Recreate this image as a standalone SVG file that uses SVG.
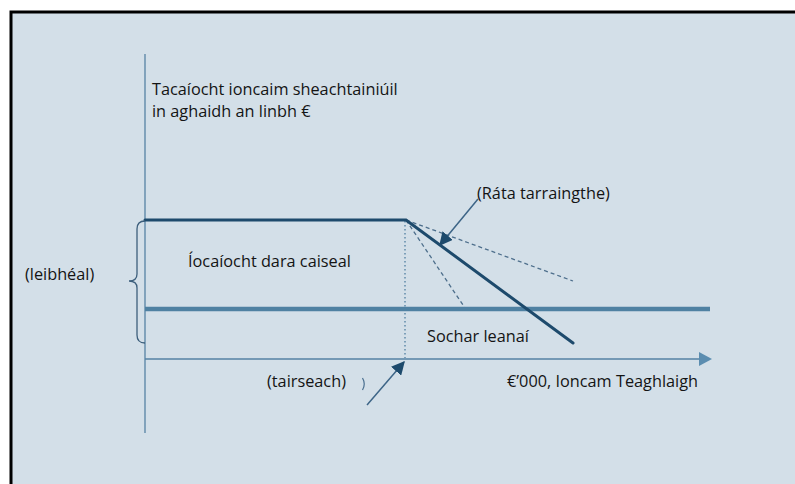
<svg xmlns="http://www.w3.org/2000/svg" width="795" height="484" viewBox="0 0 795 484">
  <style>
    .t { font-family: "Open Sans", "Noto Sans", "Liberation Sans", sans-serif; font-size: 16.3px; fill: #141414; }
    .axis { stroke: #5582a4; stroke-width: 1.3; fill: none; }
    .dark { stroke: #1d4a6c; stroke-width: 3; fill: none; stroke-linecap: round; }
    .mid { stroke: #4f81a2; stroke-width: 4.5; fill: none; }
    .dash { stroke: #4e6f8c; stroke-width: 1.3; stroke-dasharray: 4 3; fill: none; }
    .dot { stroke: #4f7ea0; stroke-width: 1.3; stroke-dasharray: 1.5 2.5; fill: none; }
    .ptr { stroke: #3d6587; stroke-width: 1.5; fill: none; }
  </style>
  <defs>
    <marker id="ah" viewBox="0 0 10 10" refX="9" refY="5" markerWidth="9" markerHeight="9" orient="auto" markerUnits="strokeWidth">
      <path d="M0,0 L10,5 L0,10 z" fill="#1d4a6c"/>
    </marker>
  </defs>
  <rect x="11" y="12" width="790" height="480" fill="#d3dfe8" stroke="#000" stroke-width="3"/>

  <g id="axes">
    <line class="axis" x1="145" y1="54" x2="145" y2="433"/>
    <line class="axis" x1="145" y1="359" x2="700" y2="359"/>
    <path d="M699,352 L712,359 L699,366 z" fill="#5b8db0"/>
  </g>

  <g id="connectors">
    <line class="dot" x1="405" y1="221" x2="405" y2="358"/>
    <line class="dash" x1="406" y1="220" x2="573" y2="281"/>
    <line class="dash" x1="406" y1="220" x2="465" y2="308"/>
    <line class="mid" x1="145" y1="309" x2="710" y2="309"/>
    <path class="dark" d="M145,220 L406,220 L573,343"/>
    <line class="ptr" x1="478" y1="199" x2="440" y2="245" marker-end="url(#ah)"/>
    <line class="ptr" x1="367" y1="405" x2="404" y2="362" marker-end="url(#ah)"/>
    <path d="M362.5,378 Q366,384 362.5,390" stroke="#4a6f8f" stroke-width="1.2" fill="none"/>
    <path d="M145,221 Q137,221 137,229 L137,274 Q137,281 129,281 Q137,281 137,288 L137,335 Q137,343 145,343" stroke="#3d5f7c" stroke-width="1.3" fill="none"/>
  </g>

  <g id="labels">
    <text class="t" x="152" y="95">Tacaíocht ioncaim sheachtainiúil</text>
    <text class="t" x="152" y="117">in aghaidh an linbh €</text>
    <text class="t" x="477" y="199">(Ráta tarraingthe)</text>
    <text class="t" x="188" y="267">Íocaíocht dara caiseal</text>
    <text class="t" x="25" y="280">(leibhéal)</text>
    <text class="t" x="427" y="342">Sochar leanaí</text>
    <text class="t" x="507" y="387">€’000, Ioncam Teaghlaigh</text>
    <text class="t" x="267" y="387">(tairseach)</text>
  </g>
</svg>
